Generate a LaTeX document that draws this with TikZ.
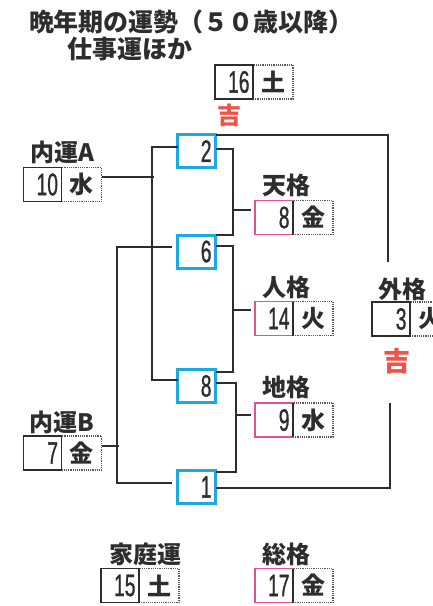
\documentclass[tikz,border=0pt]{standalone}
\usepackage{fontspec}
\usepackage{graphicx}
\setmainfont{Noto Sans CJK JP}
\newfontfamily\numfont[FakeBold=1.2]{Liberation Sans}
\usetikzlibrary{positioning}
\definecolor{kblue}{RGB}{28,168,226}
\definecolor{kpink}{RGB}{228,80,150}
\definecolor{kred}{RGB}{240,82,72}
\definecolor{kink}{RGB}{45,45,45}
\newcommand{\nm}[1]{\scalebox{0.62}[1]{\fontsize{31}{31}\selectfont\numfont #1}}

\begin{document}
\begin{tikzpicture}[x=1pt,y=-1pt,line width=1.4pt,draw=kink,
  every node/.style={inner sep=0pt,outer sep=0pt,text=kink},
  jp/.style={font=\fontsize{24}{24}\selectfont\bfseries},
  title/.style={font=\fontsize{25}{25}\selectfont\bfseries},
  kichi/.style={font=\fontsize{24}{24}\selectfont\bfseries,text=kred},
  kbox/.style={draw=kblue,line width=3pt,minimum width=38pt,minimum height=33pt,text width=30pt,align=right},
  numbox/.style={draw=kink,line width=1.3pt,minimum width=38pt,minimum height=34pt,text width=31pt,align=right},
  pinkbox/.style={numbox,draw=kpink},
  elembox/.style={draw=kink!80,densely dotted,line width=1.2pt,minimum width=40pt,minimum height=34pt,font=\fontsize{24}{24}\selectfont\bfseries}]
        \useasboundingbox (0,0) rectangle (433,606);
        \clip (0,0) rectangle (433,606);
        \node[title,anchor=west] (t1) at (29,22) {晩年期の運勢（５０歳以降）};
        \node[title,anchor=west] (t2) at (67,49) {仕事運ほか};
        % top
        \node[elembox] (e16) at (273,82) {土};
        \node[numbox,left=0pt of e16] (n16) {\nm{16}};
        \node[kichi] (k1) at (229,115) {吉};
        % inner A, B
        \node[jp] (lA) at (62,152) {内運A};
        \node[elembox] (e10) at (81.5,184.5) {水};
        \node[numbox,left=0pt of e10] (n10) {\nm{10}};
        \node[jp] (lB) at (62,422) {内運B};
        \node[elembox] (e7) at (81.5,453) {金};
        \node[numbox,left=0pt of e7] (n7) {\nm{7}};
        % blue boxes
        \node[kbox] (B2) at (196.5,151) {\nm{2}};
        \node[kbox] (B6) at (196.5,251.5) {\nm{6}};
        \node[kbox] (B8) at (196.5,386) {\nm{8}};
        \node[kbox] (B1) at (196.5,487) {\nm{1}};
        % ten, jin, chi
        \node[jp] (lT) at (286,185) {天格};
        \node[elembox] (eT) at (313,217.5) {金};
        \node[pinkbox,left=0pt of eT] (nT) {\nm{8}};
        \node[jp] (lJ) at (286,287) {人格};
        \node[elembox] (eJ) at (313,318.5) {火};
        \node[pinkbox,left=0pt of eJ] (nJ) {\nm{14}};
        \node[jp] (lC) at (286,387) {地格};
        \node[elembox] (eC) at (313,420) {水};
        \node[pinkbox,left=0pt of eC] (nC) {\nm{9}};
        \draw (nT.north east)--(nT.south east);
        \draw (nJ.north east)--(nJ.south east);
        \draw (nC.north east)--(nC.south east);
        % gai
        \node[jp] (lG) at (402,289) {外格};
        \node[elembox] (eG) at (430,319) {火};
        \node[numbox,left=0pt of eG] (nG) {\nm{3}};
        \node[kichi,font=\fontsize{27}{27}\selectfont\bfseries] (k2) at (397,361) {吉};
        % bottom
        \node[jp] (lK) at (145,554) {家庭運};
        \node[elembox] (eK) at (159,585.5) {土};
        \node[numbox,left=0pt of eK] (nK) {\nm{15}};
        \node[jp] (lS) at (286,554) {総格};
        \node[elembox] (eS) at (313,585.5) {金};
        \node[pinkbox,left=0pt of eS] (nS) {\nm{17}};
        \draw (nS.north east)--(nS.south east);
        % left brackets
        \draw ([yshift=7.5pt]e10.east) -- ++(52,0);
        \draw ([yshift=4pt]B2.west) -| ([xshift=-25.5pt,yshift=6pt]B8.west) -- ([yshift=6pt]B8.west);
        \draw ([yshift=7pt]e7.east) -- ++(17,0);
        \draw ([xshift=-6pt,yshift=4.5pt]B6.west) -- ++(-54.5,0) |- ([xshift=-6pt,yshift=4pt]B1.west);
        % right brackets
        \draw ([yshift=2pt]B2.east) -- ++(17.5,0) |- ([yshift=16.5pt]B6.east);
        \draw ([xshift=-4pt,yshift=7.5pt]nT.west) -- ++(-18,0);
        \draw ([yshift=5.5pt]B6.east) -- ++(17.5,0) |- ([yshift=14pt]B8.east);
        \draw ([xshift=-4pt,yshift=8.5pt]nJ.west) -- ++(-18,0);
        \draw ([yshift=3pt]B8.east) -- ++(20.5,0) |- ([yshift=15pt]B1.east);
        \draw ([xshift=-4pt,yshift=5pt]nC.west) -- ++(-15,0);
        % outer
        \draw ([yshift=16pt]B2.east) -- ++(172.5,0) -- ++(0,127);
        \draw ([yshift=-1pt]B1.east) -- ++(174.5,0) -- ++(0,-85);
\end{tikzpicture}
\end{document}
